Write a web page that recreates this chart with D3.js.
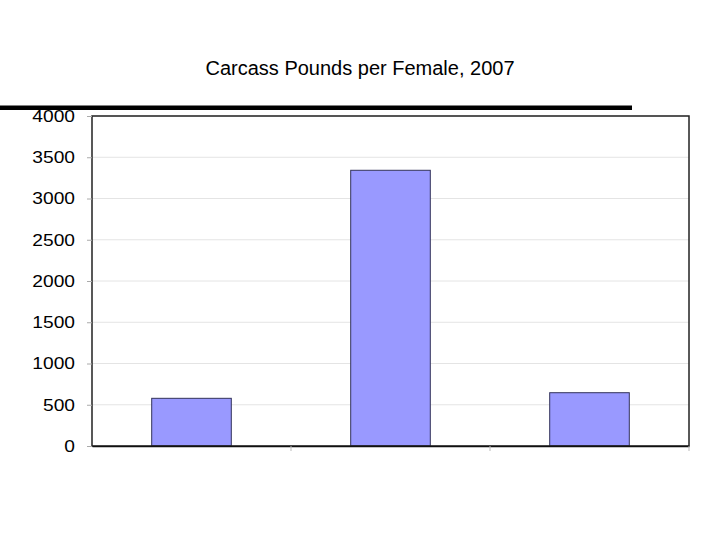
<!DOCTYPE html>
<html><head><meta charset="utf-8">
<script src="https://cdn.jsdelivr.net/npm/d3@7"></script>
<style>body{margin:0;background:#fff;} svg{display:block;}</style>
</head><body>
<script>
const categories = ["A", "B", "C"];
const values = [578, 3342, 646];
const yTicks = [0, 500, 1000, 1500, 2000, 2500, 3000, 3500, 4000];
const title = "Carcass Pounds per Female, 2007";

const W = 720, H = 540;
const m = {left: 92, right: 31, top: 116, bottom: 94};
const svg = d3.select("body").append("svg").attr("width", W).attr("height", H);
const font = "Liberation Sans, Arial, sans-serif";

const x = d3.scaleBand().domain(categories).range([m.left, W - m.right]).paddingInner(0).paddingOuter(0);
const y = d3.scaleLinear().domain([0, 4000]).range([H - m.bottom, m.top]);

// gridlines
svg.append("g").selectAll("line").data(yTicks.slice(1)).join("line")
  .attr("x1", m.left).attr("x2", W - m.right)
  .attr("y1", d => y(d)).attr("y2", d => y(d))
  .attr("stroke", "#e4e4e4").attr("stroke-width", 1);

// bars
const bw = x.bandwidth() * 0.4;
svg.append("g").selectAll("rect").data(values).join("rect")
  .attr("x", (d, i) => x(categories[i]) + (x.bandwidth() - bw) / 2)
  .attr("width", bw)
  .attr("y", d => y(d))
  .attr("height", d => y(0) - y(d))
  .attr("fill", "#9999ff")
  .attr("stroke", "#33335a").attr("stroke-width", 1);

// plot border
svg.append("rect").attr("x", m.left).attr("y", m.top)
  .attr("width", W - m.right - m.left).attr("height", H - m.bottom - m.top)
  .attr("fill", "none").attr("stroke", "#222").attr("stroke-width", 1.5);

// y axis
const sx = 1.13;
const yAxis = svg.append("g").attr("transform", `translate(${m.left},0)`)
  .call(d3.axisLeft(y).tickValues(yTicks).tickSize(5).tickPadding(10).tickFormat(d3.format("d")));
yAxis.select(".domain").remove();
yAxis.selectAll(".tick line").attr("stroke", "#aaa");
yAxis.selectAll("text").attr("font-family", font).attr("font-size", 17).attr("fill", "#000")
  .attr("x", -17 / sx).attr("transform", `scale(${sx},1)`);

// x axis
const xAxis = svg.append("g").attr("transform", `translate(0,${H - m.bottom})`)
  .call(d3.axisBottom(x).tickSize(0).tickFormat(""));
xAxis.select(".domain").attr("stroke", "#111").attr("stroke-width", 1.5);
svg.append("g").selectAll("line").data(categories).join("line")
  .attr("x1", d => x(d) + x.bandwidth())
  .attr("x2", d => x(d) + x.bandwidth())
  .attr("y1", H - m.bottom).attr("y2", H - m.bottom + 5)
  .attr("stroke", "#bbb");

// title
svg.append("text").attr("x", 360).attr("y", 74.5).attr("text-anchor", "middle")
  .attr("font-family", font).attr("font-size", 20).attr("fill", "#000").text(title);

// heavy black rule
svg.append("rect").attr("x", 0).attr("y", 105.5).attr("width", 632).attr("height", 4.5).attr("fill", "#000");
</script>
</body></html>
